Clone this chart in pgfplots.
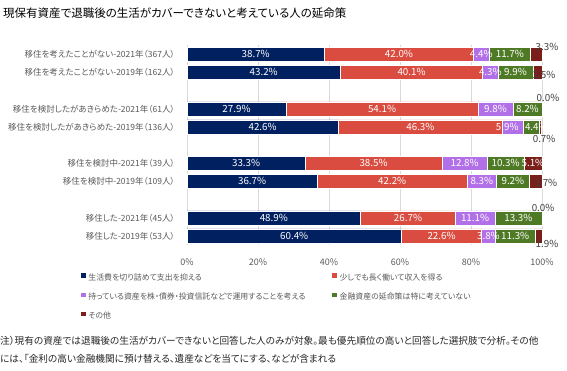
\documentclass[border=0pt]{standalone}
\usepackage{pgfplots}
\pgfplotsset{compat=1.18}
\usepackage{pgfplotstable}
\usepackage{fontspec}
\setmainfont{Noto Sans CJK JP}[RawFeature={+palt}]
\definecolor{cNavy}{HTML}{002060}
\definecolor{cRed}{HTML}{D94C3F}
\definecolor{cPurple}{HTML}{B16FE8}
\definecolor{cGreen}{HTML}{4E7A25}
\definecolor{cDark}{HTML}{7A1F19}
\definecolor{cGrid}{HTML}{D9D9D9}
\definecolor{cTxt}{HTML}{595959}
\definecolor{cLab}{HTML}{404040}

\pgfplotstableread{
y     a    b    c    d    e
54.3  38.7 42.0 4.4  11.7 3.3
72.3  43.2 40.1 4.3  9.9  2.5
108.8 27.9 54.1 9.8  8.2  0.0
126.8 42.6 46.3 5.9  4.4  0.7
163.3 33.3 38.5 12.8 10.3 5.1
181.3 36.7 42.2 8.3  9.2  3.7
217.8 48.9 26.7 11.1 13.3 0.0
235.8 60.4 22.6 3.8  11.3 1.9
}\data

\begin{document}
\begin{tikzpicture}
\path[use as bounding box] (0,0) rectangle (567pt,371pt);
\pgfplotsset{
  base/.style={scale only axis, width=355pt, height=200pt,
    at={(187pt,126pt)}, anchor=south west,
    xmin=0, xmax=100, ymin=45, ymax=245, y dir=reverse, clip=false,
    /pgf/number format/assume math mode=true},
  lab/.style={draw=none, mark=none, point meta=explicit,
    nodes near coords={\pgfmathprintnumber[fixed,fixed zerofill,precision=1,assume math mode=true]{\pgfplotspointmeta}\%},
    every node near coord/.append style={anchor=center, inner sep=0pt,
      font=\fontsize{9.8}{10}\selectfont, text=white}},
}
\begin{axis}[base, xbar stacked, bar width=14,
  axis line style={draw=none},
  tick style={draw=none},
  xmajorgrids, major grid style={cGrid, line width=0.6pt},
  xtick={0,20,...,100},
  xticklabel={\pgfmathprintnumber{\tick}\%},
  xticklabel style={font=\fontsize{9}{10}\selectfont, text=cTxt, anchor=center, yshift=-17pt, inner sep=0pt},
  ytick={54.3,72.3,108.8,126.8,163.3,181.3,217.8,235.8},
  yticklabels={移住を考えたことがない-2021年（367人）,移住を考えたことがない-2019年（162人）,移住を検討したがあきらめた-2021年（61人）,移住を検討したがあきらめた-2019年（136人）,移住を検討中-2021年（39人）,移住を検討中-2019年（109人）,移住した-2021年（45人）,移住した-2019年（53人）},
  yticklabel style={font=\fontsize{8.5}{9}\selectfont, text=cTxt, anchor=east, inner sep=0pt, xshift=-12pt},
  legend columns=2,
  legend cell align=left,
  legend style={at={(axis description cs:-0.2986,-0.141)}, anchor=north west,
    draw=none, fill=none, inner sep=0pt, row sep=10.5pt, column sep=0pt,
    font=\fontsize{7.9}{9}\selectfont, text=cTxt,
    nodes={inner sep=0pt, text height=6pt, text depth=1.5pt}},
  every axis plot post/.append style={legend image code/.code={\fill[##1, draw=none] (0pt,0.4pt) rectangle (4.5pt,4.9pt); \path (7pt,0pt);}},
]
\addplot[fill=cNavy, draw=white, line width=0.5pt] table[x=a, y=y]{\data};
\addplot[fill=cRed, draw=white, line width=0.5pt] table[x=b, y=y]{\data};
\addplot[fill=cPurple, draw=white, line width=0.5pt] table[x=c, y=y]{\data};
\addplot[fill=cGreen, draw=white, line width=0.5pt] table[x=d, y=y]{\data};
\addplot[fill=cDark, draw=white, line width=0.5pt] table[x=e, y=y]{\data};
\addlegendentry{\makebox[244pt][l]{生活費を切り詰めて支出を抑える}}
\addlegendentry{少しでも長く働いて収入を得る}
\addlegendentry{\makebox[244pt][l]{持っている資産を株・債券・投資信託などで運用することを考える}}
\addlegendentry{金融資産の延命策は特に考えていない}
\addlegendentry{\makebox[244pt][l]{その他}}
\end{axis}
\begin{axis}[base, hide axis]
\addplot[lab] table[x expr=0.5*\thisrow{a}, y=y, meta=a]{\data};
\addplot[lab] table[x expr=\thisrow{a}+0.5*\thisrow{b}, y=y, meta=b]{\data};
\addplot[lab, skip coords between index={3}{4}] table[x expr=\thisrow{a}+\thisrow{b}+0.5*\thisrow{c}, y=y, meta=c]{\data};
\addplot[lab, skip coords between index={3}{4}] table[x expr=\thisrow{a}+\thisrow{b}+\thisrow{c}+0.5*\thisrow{d}, y=y, meta=d]{\data};
\addplot[lab] coordinates {(90.2,126.8)[5.9] (98.4,126.8)[4.4] (97.45,163.3)[5.1]};
\addplot[lab, every node near coord/.append style={text=cLab}] coordinates {(101.4,47)[3.3] (100.6,75)[2.5] (101.7,98)[0.0] (100.6,139)[0.7] (101.1,183)[3.7] (100.3,208)[0.0] (101.4,244)[1.9]};
\end{axis}
\node[anchor=west, inner sep=0pt, text=black] at (3pt,358pt) {\fontsize{11.5}{13}\selectfont 現保有資産で退職後の生活がカバーできないと考えている人の延命策};
\node[anchor=west, inner sep=0pt, text=black!85] at (0pt,30pt) {\fontsize{9.65}{11}\selectfont 注）現有の資産では退職後の生活がカバーできないと回答した人のみが対象。最も優先順位の高いと回答した選択肢で分析。その他};
\node[anchor=west, inner sep=0pt, text=black!85] at (0pt,12pt) {\fontsize{9.65}{11}\selectfont には、「金利の高い金融機関に預け替える、遺産などを当てにする、などが含まれる};
\end{tikzpicture}
\end{document}
